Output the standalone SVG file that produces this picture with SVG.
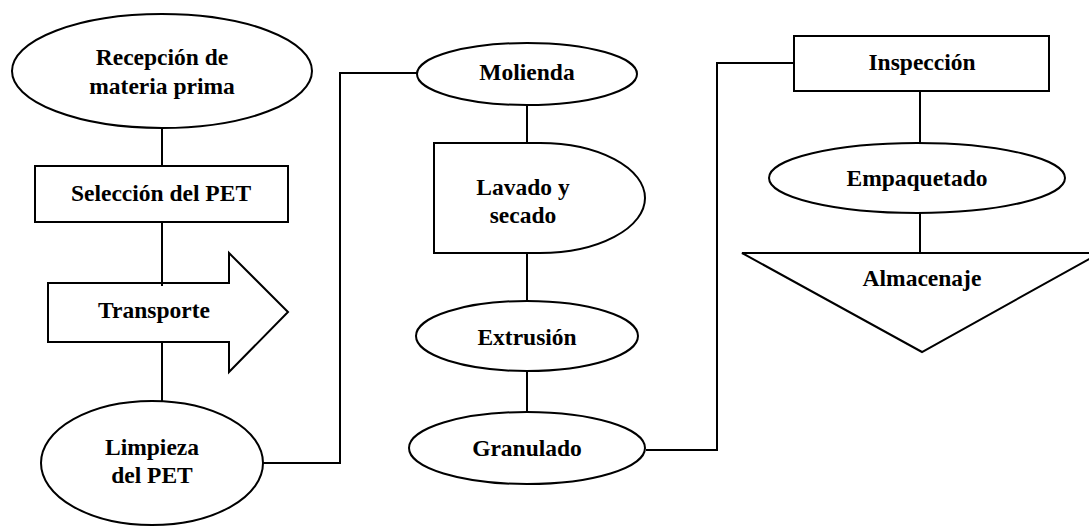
<svg xmlns="http://www.w3.org/2000/svg" width="1089" height="529" viewBox="0 0 1089 529" font-family="'Liberation Serif', 'Times New Roman', Times, serif">
<style>
.s{fill:#fff;stroke:#000;stroke-width:2}
.c{fill:none;stroke:#000;stroke-width:2}
.t{font-family:'Liberation Serif', 'Times New Roman', Times, serif;font-weight:bold;font-size:23.5px;text-anchor:middle;dominant-baseline:central;fill:#000}
</style>
<rect width="1089" height="529" fill="#fff"/>
<g id="connectors">
<line class="c" x1="162" y1="128" x2="162" y2="166"/>
<line class="c" x1="162" y1="222" x2="162" y2="283"/>
<line class="c" x1="162" y1="342" x2="162" y2="401"/>
<polyline class="c" points="263,463 340,463 340,73 417,73"/>
<line class="c" x1="527" y1="105" x2="527" y2="143"/>
<line class="c" x1="527" y1="253" x2="527" y2="301"/>
<line class="c" x1="527" y1="371" x2="527" y2="412"/>
<polyline class="c" points="646,450 717,450 717,63 794,63"/>
<line class="c" x1="920" y1="91" x2="920" y2="143"/>
<line class="c" x1="920" y1="213" x2="920" y2="253"/>
</g>
<g id="recepcion">
<ellipse class="s" cx="162" cy="71" rx="150" ry="57"/>
<text class="t" x="162" y="57">Recepción de</text>
<text class="t" x="162" y="86">materia prima</text>
</g>
<g id="seleccion">
<rect class="s" x="35" y="166" width="253" height="56"/>
<text class="t" x="161" y="193">Selección del PET</text>
</g>
<g id="transporte">
<polygon class="s" points="48,283 229,283 229,253 288,312 229,372 229,342 48,342"/>
<line class="c" x1="162" y1="283" x2="162" y2="286"/>
<text class="t" x="154" y="310">Transporte</text>
</g>
<g id="limpieza">
<ellipse class="s" cx="152" cy="463" rx="111" ry="62"/>
<text class="t" x="152" y="447">Limpieza</text>
<text class="t" x="152" y="475">del PET</text>
</g>
<g id="molienda">
<ellipse class="s" cx="527" cy="74" rx="110" ry="31"/>
<text class="t" x="527" y="72">Molienda</text>
</g>
<g id="lavado">
<path class="s" d="M434,143 H540 A105,55 0 0 1 540,253 H434 Z"/>
<text class="t" x="523" y="187">Lavado y</text>
<text class="t" x="523" y="215">secado</text>
</g>
<g id="extrusion">
<ellipse class="s" cx="527" cy="336" rx="111" ry="35"/>
<text class="t" x="527" y="337">Extrusión</text>
</g>
<g id="granulado">
<ellipse class="s" cx="527" cy="448" rx="118" ry="36"/>
<text class="t" x="527" y="448">Granulado</text>
</g>
<g id="inspeccion">
<rect class="s" x="794" y="36" width="255" height="55"/>
<text class="t" x="922" y="62">Inspección</text>
</g>
<g id="empaquetado">
<ellipse class="s" cx="917" cy="178" rx="148" ry="35"/>
<text class="t" x="917" y="178">Empaquetado</text>
</g>
<g id="almacenaje">
<polygon class="s" points="742,253 1100,253 922,352"/>
<text class="t" x="922" y="278">Almacenaje</text>
</g>
</svg>
